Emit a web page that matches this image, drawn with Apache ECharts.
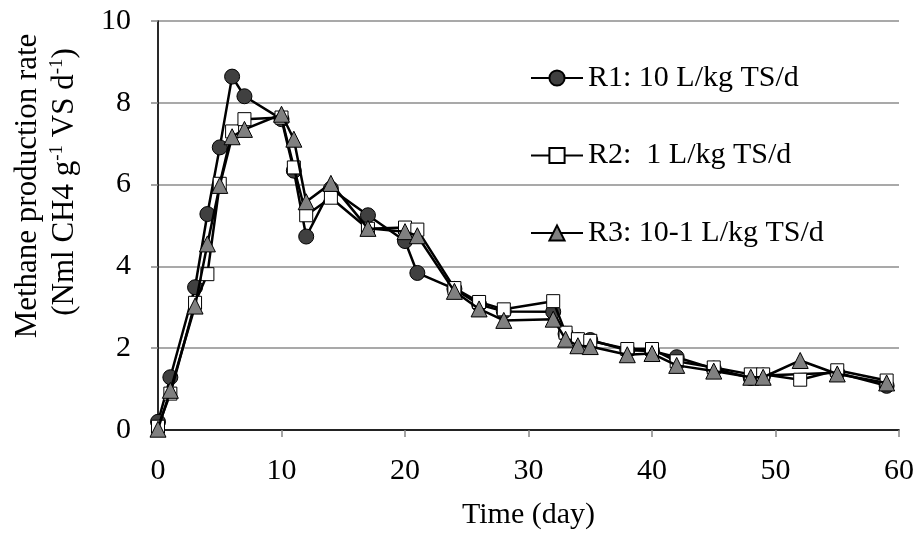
<!DOCTYPE html>
<html>
<head>
<meta charset="utf-8">
<script src="https://cdn.jsdelivr.net/npm/echarts@6/dist/echarts.min.js"></script>
<style>
html,body{margin:0;padding:0;background:#fff;}
#chart{width:919px;height:535px;}
</style>
</head>
<body>
<div id="chart"></div>
<script>
// ---- data ----
const r1Days   = [0,1,3,4,5,6,7,10,11,12,14,17,20,21,24,26,28,32,33,34,35,38,40,42,45,48,49,55,59];
const r1Values = [0.2,1.29,3.49,5.28,6.91,8.64,8.16,7.6,6.34,4.73,5.9,5.25,4.62,3.84,3.45,3.07,2.9,2.89,2.35,2.2,2.2,1.95,1.93,1.78,1.5,1.27,1.33,1.4,1.08];

const r2Days   = [0,1,3,4,5,6,7,10,11,12,14,17,20,21,24,26,28,32,33,34,35,38,40,42,45,48,49,52,55,59];
const r2Values = [0.08,0.89,3.11,3.81,6.02,7.3,7.6,7.64,6.42,5.25,5.68,4.92,4.95,4.9,3.47,3.13,2.95,3.15,2.38,2.22,2.18,1.98,1.98,1.68,1.53,1.36,1.36,1.23,1.46,1.21];

const r3Days   = [0,1,3,4,5,6,7,10,11,12,14,17,20,21,24,26,28,32,33,34,35,38,40,42,45,48,49,52,55,59];
const r3Values = [0.02,0.97,3.03,4.55,5.98,7.17,7.35,7.72,7.11,5.58,6.03,4.93,4.85,4.75,3.39,2.96,2.68,2.71,2.22,2.06,2.04,1.84,1.87,1.58,1.44,1.29,1.29,1.70,1.37,1.15];

const seriesNames = ['R1: 10 L/kg TS/d', 'R2:  1 L/kg TS/d', 'R3: 10-1 L/kg TS/d'];
const xTicks = {min: 0, max: 60, interval: 10};
const yTicks = {min: 0, max: 10, interval: 2};

function pairs(d, v){ return d.map((x,i)=>[x, v[i]]); }

const FONT = '"Liberation Serif", "Times New Roman", serif';
const chart = echarts.init(document.getElementById('chart'), null, {renderer:'canvas'});

const lineStyle = {color:'#000', width:2.5};

chart.setOption({
  animation:false,
  backgroundColor:'#fff',
  grid:{left:158, right:20, top:21, bottom:102, containLabel:false},
  legend:{
    orient:'vertical', left:530, top:63, padding:0,
    itemWidth:52, itemHeight:19, itemGap:47.5,
    textStyle:{fontFamily:FONT, fontSize:30, color:'#000', lineHeight:30},
    data:seriesNames
  },
  xAxis:[{
    type:'value', min:xTicks.min, max:xTicks.max, interval:xTicks.interval,
    axisLine:{show:true, lineStyle:{color:'#868686', width:1.5}},
    axisTick:{show:true, inside:false, length:7, lineStyle:{color:'#868686', width:1.5}},
    axisLabel:{fontFamily:FONT, fontSize:30, color:'#000', margin:26},
    splitLine:{show:false},
    name:'Time (day)', nameLocation:'middle', nameGap:70,
    nameTextStyle:{fontFamily:FONT, fontSize:30, color:'#000'}
  },{
    type:'value', position:'top', min:xTicks.min, max:xTicks.max,
    axisLine:{show:true, lineStyle:{color:'#000', width:1.5}},
    axisTick:{show:false}, axisLabel:{show:false}, splitLine:{show:false}
  }],
  yAxis:[{
    type:'value', min:yTicks.min, max:yTicks.max, interval:yTicks.interval,
    axisLine:{show:true, lineStyle:{color:'#868686', width:1.5}},
    axisTick:{show:true, inside:false, length:7, lineStyle:{color:'#868686', width:1.5}},
    axisLabel:{fontFamily:FONT, fontSize:30, color:'#000', margin:27},
    splitLine:{show:true, lineStyle:{color:'#8c8c8c', width:1.5}}
  },{
    type:'value', position:'right', min:yTicks.min, max:yTicks.max,
    axisLine:{show:true, lineStyle:{color:'#000', width:1.5}},
    axisTick:{show:false}, axisLabel:{show:false}, splitLine:{show:false}
  }],
  graphic:[
    {type:'text', x:28, y:186, rotation:Math.PI/2,
     style:{text:'Methane production rate', fontFamily:FONT, fontSize:31, fill:'#000',
            align:'center', verticalAlign:'middle', textAlign:'center', textVerticalAlign:'middle'}},
    {type:'text', x:65, y:182, rotation:Math.PI/2,
     style:{text:'{n|(Nml CH4 g}{s|-1}{n| VS d}{s|-1}{n|)}', fill:'#000',
            align:'center', verticalAlign:'middle', textAlign:'center', textVerticalAlign:'middle',
            rich:{
              n:{fontFamily:FONT, fontSize:31, lineHeight:34, fill:'#000'},
              s:{fontFamily:FONT, fontSize:19, lineHeight:20, verticalAlign:'top', fill:'#000'}
            }}}
  ],
  series:[
    {name:seriesNames[0], type:'line', data:pairs(r1Days, r1Values),
     symbol:'circle', symbolSize:15, z:2,
     itemStyle:{color:'#404040', borderColor:'#000', borderWidth:1},
     lineStyle:lineStyle},
    {name:seriesNames[1], type:'line', data:pairs(r2Days, r2Values),
     symbol:'rect', symbolSize:13, z:3,
     itemStyle:{color:'#ffffff', borderColor:'#000', borderWidth:1},
     lineStyle:lineStyle},
    {name:seriesNames[2], type:'line', data:pairs(r3Days, r3Values),
     symbol:'triangle', symbolSize:16, z:4,
     itemStyle:{color:'#808080', borderColor:'#000', borderWidth:1},
     lineStyle:lineStyle}
  ]
});
</script>
</body>
</html>
